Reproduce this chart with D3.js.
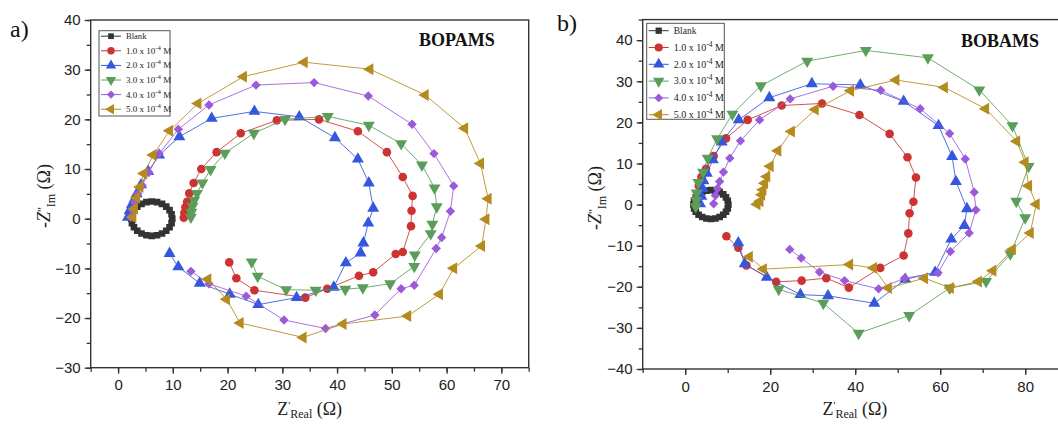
<!DOCTYPE html>
<html><head><meta charset="utf-8">
<script src="https://cdn.jsdelivr.net/npm/d3@7"></script>
<style>body{margin:0;background:#fff}svg{display:block}</style>
</head><body>
<svg id="c" width="1058" height="425"></svg>
<script>
// ---------- data ----------
const seriesNames = ["Blank", "1.0 x 10", "2.0 x 10", "3.0 x 10", "4.0 x 10", "5.0 x 10"];
const seriesColors = ["#333333", "#cc3333", "#3557dd", "#5a9e5a", "#9b5bd8", "#b38b1f"];
const seriesShapes = ["square", "circle", "triangleUp", "triangleDown", "diamond", "triangleLeft"];

const aXTicks = [0, 10, 20, 30, 40, 50, 60, 70];
const aYTicks = [-30, -20, -10, 0, 10, 20, 30, 40];
const bXTicks = [0, 20, 40, 60, 80];
const bYTicks = [-40, -30, -20, -10, 0, 10, 20, 30, 40];

const a_blank = [[2.4,0.0],[2.53,0.89],[2.9,1.73],[3.5,2.44],[4.28,2.99],[5.18,3.33],[6.15,3.45],[7.12,3.33],[8.03,2.99],[8.8,2.44],[9.4,1.73],[9.77,0.89],[9.9,0],[9.77,-0.89],[9.4,-1.73],[8.8,-2.44],[8.03,-2.99],[7.12,-3.33],[6.15,-3.45],[5.18,-3.33],[4.28,-2.99],[3.5,-2.44],[2.9,-1.73],[2.53,-0.89]];
const a_c1 = [[12.0,0.2],[12.1,1.2],[12.3,2.3],[12.6,3.4],[13.0,5.1],[13.8,7.2],[15.2,10.0],[18.0,13.4],[22.4,17.2],[29.0,19.8],[36.7,20.0],[43.8,17.6],[49.1,13.4],[52.0,8.4],[53.8,4.6],[53.6,1.6],[53.5,-1.5],[52.0,-6.7],[50.7,-7.1],[46.6,-10.8],[44.0,-11.5],[38.2,-14.1],[34.2,-15.9],[24.9,-14.4],[21.6,-12.0],[20.3,-8.8]];
const a_c2 = [[1.8,0.3],[2.1,1.6],[2.5,2.8],[3.0,3.9],[3.4,5.0],[4.2,6.8],[5.5,9.5],[7.5,12.8],[11.2,16.5],[17.1,20.2],[24.9,21.6],[33.1,20.5],[39.6,16.3],[43.8,12.0],[45.8,7.2],[46.6,2.1],[45.7,-0.9],[44.8,-4.9],[44.3,-6.9],[41.6,-8.9],[39.4,-13.8],[32.6,-15.9],[25.6,-17.3],[20.4,-15.2],[14.9,-13.0],[11.0,-9.7],[9.4,-7.0]];
const a_c3 = [[13.3,0.3],[13.4,1.3],[13.6,2.5],[13.9,3.7],[14.4,5.1],[15.4,7.2],[16.9,9.9],[19.5,13.2],[24.8,17.2],[30.5,20.0],[38.3,20.6],[45.8,18.8],[51.7,15.1],[55.5,10.8],[57.8,6.2],[58.2,2.4],[57.4,-1.1],[57.1,-3.0],[54.2,-7.3],[54.1,-9.6],[49.7,-13.1],[44.7,-13.9],[41.5,-14.2],[36.1,-14.4],[30.7,-14.3],[25.5,-11.6],[24.4,-8.7]];
const a_c4 = [[2.3,0.3],[2.6,1.8],[3.0,3.3],[3.6,5.0],[4.4,6.7],[5.6,9.3],[7.5,13.1],[11.0,18.0],[16.6,22.9],[25.2,26.9],[35.8,27.4],[45.7,24.7],[53.7,19.0],[57.7,13.1],[61.3,6.6],[60.7,1.5],[59.1,-3.8],[58.1,-6.0],[54.1,-13.4],[51.7,-14.1],[46.9,-19.4],[37.9,-22.1],[30.3,-20.4],[23.4,-15.6],[16.6,-13.1],[13.3,-10.6]];
const a_c5 = [[2.7,0.3],[3.0,2.0],[3.4,4.2],[4.0,6.4],[4.7,9.1],[6.4,12.8],[9.4,17.7],[14.6,23.2],[22.9,28.6],[34.0,31.5],[46.0,30.1],[56.1,24.9],[63.3,18.2],[66.2,11.1],[67.6,4.0],[67.2,-0.1],[66.4,-5.5],[61.3,-10.0],[58.7,-15.2],[52.9,-19.6],[41.1,-21.2],[33.8,-23.9],[22.3,-21.0],[19.8,-16.2],[16.4,-12.2]];

const b_blank = [[1.95,0],[2.09,0.91],[2.5,1.75],[3.15,2.47],[4.0,3.03],[4.99,3.38],[6.05,3.5],[7.11,3.38],[8.1,3.03],[8.95,2.47],[9.6,1.75],[10.01,0.91],[10.15,0],[10.01,-0.91],[9.6,-1.75],[8.95,-2.47],[8.1,-3.03],[7.11,-3.38],[6.05,-3.5],[4.99,-3.38],[4.0,-3.03],[3.15,-2.47],[2.5,-1.75],[2.09,-0.91]];
const b_c1 = [[2.6,0.3],[2.8,2.3],[3.2,4.5],[3.8,6.7],[4.9,8.7],[6.7,11.8],[9.6,16.1],[14.7,20.6],[22.7,24.1],[32.2,24.6],[41.0,21.8],[48.1,17.2],[52.3,11.5],[54.3,6.6],[53.7,0.7],[52.8,-2.1],[52.5,-7.0],[51.4,-12.4],[45.9,-15.4],[38.5,-20.2],[33.2,-17.9],[27.4,-18.5],[21.4,-18.8],[14.4,-14.8],[12.5,-10.5],[9.7,-7.7]];
const b_c2 = [[3.5,0.2],[3.8,2.0],[4.1,3.9],[4.3,5.8],[5.1,7.6],[6.5,10.9],[8.6,15.2],[12.6,20.6],[19.8,26.0],[29.8,29.4],[41.2,29.1],[51.4,25.1],[59.6,19.2],[62.8,11.7],[63.7,5.6],[66.3,-1.0],[65.7,-5.1],[62.6,-8.4],[58.8,-16.5],[51.8,-18.2],[44.5,-24.0],[33.6,-22.2],[27.1,-21.9],[19.2,-17.7],[14.0,-14.4],[12.5,-9.3]];
const b_c3 = [[2.5,-0.5],[2.6,1.0],[2.7,2.8],[3.1,5.4],[4.2,7.9],[5.3,11.3],[7.5,16.0],[11.1,22.0],[17.8,28.9],[28.7,34.9],[42.5,37.5],[57.1,35.7],[69.2,27.9],[77.0,19.2],[80.8,9.3],[77.9,0.8],[80.0,-3.2],[76.5,-12.0],[70.8,-18.7],[62.2,-20.3],[52.7,-27.0],[40.8,-31.3],[32.5,-24.0],[22.0,-20.6]];
const b_c4 = [[6.7,0.2],[7.1,2.2],[7.6,3.9],[8.1,5.6],[9.0,7.9],[10.5,11.3],[13.0,15.5],[17.5,20.6],[24.7,25.7],[34.8,28.8],[46.0,27.8],[55.3,23.3],[62.2,17.3],[65.9,11.1],[68.0,3.0],[68.4,-1.3],[66.8,-6.9],[62.4,-11.4],[59.5,-16.6],[51.6,-17.9],[45.5,-20.5],[37.5,-18.5],[31.6,-16.4],[27.3,-13.0],[24.6,-10.9]];
const b_c5 = [[16.9,0.1],[17.6,0.8],[18.0,2.4],[18.3,3.6],[18.7,5.2],[19.2,6.8],[20.0,9.3],[21.8,13.1],[25.0,17.8],[30.6,23.1],[38.9,27.7],[49.6,30.3],[61.0,28.5],[70.7,23.3],[78.0,15.4],[80.0,10.3],[80.8,4.6],[82.6,0.1],[81.2,-6.9],[77.0,-10.9],[72.4,-16.1],[69.0,-18.7],[62.4,-20.3],[56.3,-17.9],[47.8,-20.3],[44.3,-15.4],[38.7,-14.6],[18.4,-15.7],[15.1,-12.7]];

// ---------- drawing ----------
const svg = d3.select("#c");
const SERIF = "'Liberation Serif','Times New Roman',serif";
const SANS = "'Liberation Sans',Arial,sans-serif";

function symbolPath(shape, size) {
  const t = {square: d3.symbolSquare, circle: d3.symbolCircle, triangleUp: d3.symbolTriangle,
    triangleDown: d3.symbolTriangle, diamond: d3.symbolSquare, triangleLeft: d3.symbolTriangle}[shape];
  return d3.symbol().type(t).size(size)();
}
function symbolRot(shape) {
  return {triangleDown: 180, diamond: 45, triangleLeft: -90}[shape] || 0;
}
function symbolSize(shape) {
  return {square: 44, circle: 58, triangleUp: 62, triangleDown: 62, diamond: 44, triangleLeft: 62}[shape];
}

function drawPanel(cfg) {
  const x = d3.scaleLinear().domain(cfg.xDom).range(cfg.xRange);
  const y = d3.scaleLinear().domain(cfg.yDom).range(cfg.yRange);
  const g = svg.append("g");
  const [x0, x1] = cfg.xRange, [y0, y1] = cfg.yRange;

  const cid = "clip" + cfg.id;
  svg.append("clipPath").attr("id", cid).append("rect")
    .attr("x", x0).attr("y", y1).attr("width", x1 - x0).attr("height", y0 - y1);

  const lineGen = d3.line().x(d => x(d[0])).y(d => y(d[1]));
  const dg = g.append("g").attr("clip-path", `url(#${cid})`);
  cfg.series.forEach((s, i) => {
    const col = seriesColors[i];
    const closed = i === 0;
    dg.append("path").attr("d", lineGen(closed ? s.concat([s[0]]) : s))
      .attr("fill", "none").attr("stroke", col).attr("stroke-width", closed ? 2 : 1).attr("stroke-opacity", 0.85);
    const sh = seriesShapes[i];
    dg.selectAll(null).data(s).enter().append("path")
      .attr("d", symbolPath(sh, symbolSize(sh)))
      .attr("transform", d => `translate(${x(d[0])},${y(d[1])}) rotate(${symbolRot(sh)})`)
      .attr("fill", col);
  });

  g.append("rect").attr("x", x0).attr("y", y1).attr("width", x1 - x0).attr("height", y0 - y1)
    .attr("fill", "none").attr("stroke", "#333").attr("stroke-width", 1.4);

  const xMinor = d3.range(cfg.xDom[0], cfg.xDom[1] + 0.001, cfg.xMinorStep);
  const yMinor = d3.range(cfg.yDom[0], cfg.yDom[1] + 0.001, cfg.yMinorStep);
  const xa = g.append("g").attr("transform", `translate(0,${y0})`)
    .call(d3.axisBottom(x).tickValues(xMinor).tickSize(4).tickFormat(""));
  const xa2 = g.append("g").attr("transform", `translate(0,${y0})`)
    .call(d3.axisBottom(x).tickValues(cfg.xTicks).tickSize(6).tickPadding(6).tickFormat(d3.format("d")));
  const ya = g.append("g").attr("transform", `translate(${x0},0)`)
    .call(d3.axisLeft(y).tickValues(yMinor).tickSize(4).tickFormat(""));
  const ya2 = g.append("g").attr("transform", `translate(${x0},0)`)
    .call(d3.axisLeft(y).tickValues(cfg.yTicks).tickSize(6).tickPadding(4).tickFormat(d3.format("d")));
  [xa, xa2, ya, ya2].forEach(a => {
    a.select(".domain").remove();
    a.selectAll("line").attr("stroke", "#333").attr("stroke-width", 1.3);
    a.selectAll("text").attr("font-family", SANS).attr("font-size", 15).attr("fill", "#222");
  });

  svg.append("text").attr("x", cfg.letterX).attr("y", cfg.letterY).text(cfg.letter)
    .attr("font-family", SERIF).attr("font-size", 24).attr("fill", "#111");

  svg.append("text").attr("x", cfg.titleX).attr("y", cfg.titleY).text(cfg.title)
    .attr("font-family", SERIF).attr("font-weight", "bold").attr("font-size", 18).attr("fill", "#111");

  const xt = svg.append("text").attr("x", (x0 + Math.min(x1, 1067)) / 2).attr("y", 415)
    .attr("text-anchor", "middle").attr("font-family", SERIF).attr("font-size", 18).attr("fill", "#222");
  xt.append("tspan").text("Z");
  xt.append("tspan").attr("dy", -6).attr("font-size", 11).text("'");
  xt.append("tspan").attr("dy", 9).attr("font-size", 12).text("Real");
  xt.append("tspan").attr("dy", -3).text(" (Ω)");

  const yt = svg.append("text").attr("transform", `translate(${cfg.yTitleX},${cfg.yTitleY}) rotate(-90)`)
    .attr("text-anchor", "middle").attr("font-family", SERIF).attr("font-size", 18).attr("fill", "#222");
  yt.append("tspan").text("-");
  yt.append("tspan").attr("font-style", "italic").text("Z");
  yt.append("tspan").attr("font-size", 13).attr("dy", -4).text("''");
  yt.append("tspan").attr("font-size", 12).attr("dy", 9).text("Im");
  yt.append("tspan").attr("dy", -5).text(" (Ω)");

  const L = cfg.legend;
  const lg = svg.append("g");
  lg.append("rect").attr("x", L.x).attr("y", L.y).attr("width", L.w).attr("height", L.h)
    .attr("fill", "#fff").attr("stroke", "#555").attr("stroke-width", 1);
  seriesNames.forEach((nm, i) => {
    const yy = L.y + L.first + i * L.step;
    const col = seriesColors[i];
    lg.append("line").attr("x1", L.x + 2).attr("x2", L.x + 2 + L.lineW).attr("y1", yy).attr("y2", yy)
      .attr("stroke", col).attr("stroke-width", 1);
    const sh = seriesShapes[i];
    lg.append("path").attr("d", symbolPath(sh, symbolSize(sh) * L.ms))
      .attr("transform", `translate(${L.x + 2 + L.lineW / 2},${yy}) rotate(${symbolRot(sh)})`).attr("fill", col);
    const t = lg.append("text").attr("x", L.x + L.lineW + 7).attr("y", yy + L.fs * 0.33)
      .attr("font-family", SERIF).attr("font-size", L.fs).attr("fill", "#222");
    if (i === 0) { t.attr("font-size", L.fs * 0.95).text(nm); }
    else {
      t.append("tspan").text(nm);
      t.append("tspan").attr("dy", -4).attr("font-size", L.fs * 0.75).text("-4");
      t.append("tspan").attr("dy", 4).text(" M");
    }
  });
}

drawPanel({
  id: "a", xDom: [-5, 75], yDom: [-30, 40], xRange: [90.7, 528.7], yRange: [367.7, 20],
  xTicks: aXTicks, yTicks: aYTicks, xMinorStep: 5, yMinorStep: 5,
  series: [a_blank, a_c1, a_c2, a_c3, a_c4, a_c5],
  letter: "a)", letterX: 10, letterY: 37, title: "BOPAMS", titleX: 419, titleY: 46,
  yTitleX: 50, yTitleY: 196,
  legend: {x: 99, y: 30.7, w: 71, h: 85.3, first: 5.5, step: 14.6, lineW: 20, fs: 9, ms: 0.75}
});
drawPanel({
  id: "b", xDom: [-10, 90], yDom: [-40, 45], xRange: [642.7, 1067.7], yRange: [369, 19.6],
  xTicks: bXTicks, yTicks: bYTicks, xMinorStep: 10, yMinorStep: 5,
  series: [b_blank, b_c1, b_c2, b_c3, b_c4, b_c5],
  letter: "b)", letterX: 557, letterY: 31, title: "BOBAMS", titleX: 961, titleY: 47,
  yTitleX: 601, yTitleY: 198,
  legend: {x: 646.7, y: 23.3, w: 77.6, h: 96, first: 7.4, step: 16.8, lineW: 20, fs: 10, ms: 0.9}
});
</script>
</body></html>
